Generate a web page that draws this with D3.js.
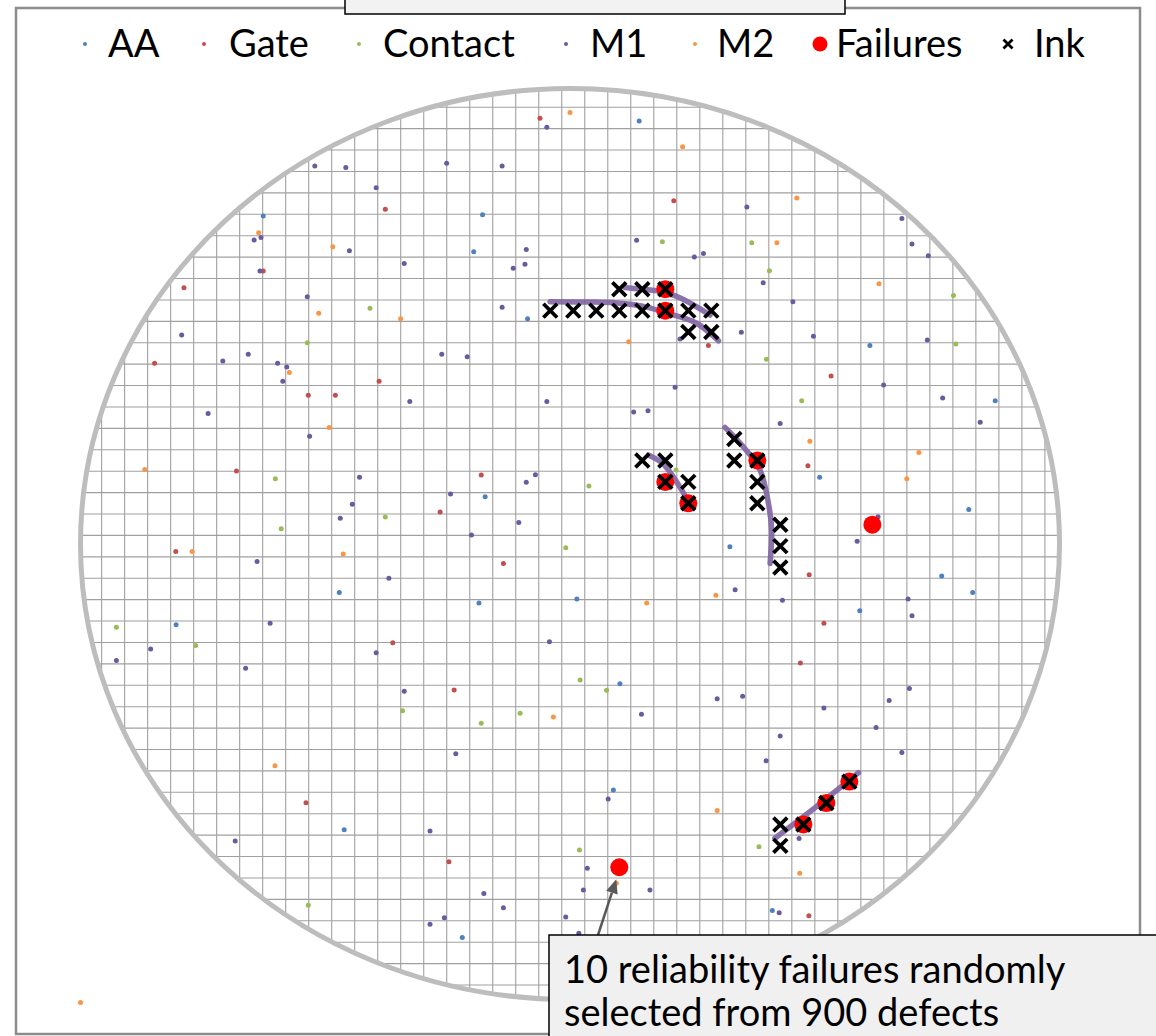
<!DOCTYPE html>
<html>
<head>
<meta charset="utf-8">
<script src="https://cdn.jsdelivr.net/npm/d3@7"></script>
<style>
  html, body { margin: 0; padding: 0; background: #fff; }
  svg { display: block; font-family: Lato, "Open Sans", sans-serif; }
</style>
</head>
<body>
<svg id="chart" width="1156" height="1036"></svg>
<script>
// ---- wafer geometry (mm) ----
const waferRadius = 150;
const diePitch = 7.05;
const dieOrigin = [1.0, -0.7];          // centre of die (col 0, row 0)

// ---- defect layers: [x mm, y mm] ----
const layerNames = ["AA", "Gate", "Contact", "M1", "M2"];
const layerColors = ["#4f81bd", "#c0504d", "#9bbb59", "#6b5b9e", "#f79646"];

const aaDefects = [
  [21.2,139.3],[-26.8,108.4],[-94.0,108.0],[-29.5,96.2],[-13.0,74.2],[-26.0,15.6],
  [91.9,65.4],[130.3,47.2],[76.5,22.0],[122.2,11.4],[49.0,-0.9],[-70.7,-16.0],
  [-27.9,-19.4],[-120.7,-26.6],[-69.2,-94.1],[-33.0,-129.6],[113.9,-10.5],[123.4,-16.0],
  [2.1,-18.1],[88.8,-22.0],[15.3,-46.0],[13.3,-81.0],[62.0,-120.7]
];
const gateDefects = [
  [-9.2,140.2],[-56.6,110.2],[-94.0,89.9],[-118.3,84.4],[-127.3,59.5],[-58.5,53.6],
  [-80.2,49.0],[-71.9,49.0],[-102.2,24.0],[-27.2,22.7],[-39.8,10.5],[31.8,113.0],
  [42.4,65.4],[80.0,55.3],[72.9,25.8],[-120.8,-2.5],[-20.4,-6.4],[-54.3,-32.5],
  [-35.5,-48.1],[-80.9,-85.2],[-37.1,-104.6],[73.3,-10.1],[77.8,-26.1],[70.6,-39.2],
  [73.2,-122.4]
];
const contactDefects = [
  [-61.3,77.6],[-80.5,66.3],[-90.3,21.5],[-56.6,8.9],[-88.5,5.0],[28.3,99.5],
  [55.7,99.2],[61.1,90.0],[117.5,81.8],[118.2,65.9],[60.2,60.8],[71.0,47.2],
  [32.5,24.4],[5.8,19.1],[-1.3,-1.2],[-139.0,-27.4],[-114.7,-33.4],[-51.3,-54.9],
  [-27.2,-59.0],[-15.3,-55.7],[-80.2,-119.0],[3.1,-44.8],[11.2,-48.2],[57.9,-99.7],
  [2.9,-100.8]
];
const m1Defects = [
  [-7.1,137.2],[-78.2,124.5],[-68.7,124.0],[-37.8,125.4],[-20.8,124.5],[-59.4,117.3],
  [-94.7,100.9],[-96.8,100.1],[-67.6,96.6],[-13.4,97.0],[-13.8,92.1],[-17.4,90.8],
  [-50.8,92.4],[-95.0,89.9],[-80.5,81.4],[-20.8,78.0],[-119.0,68.8],[-106.4,60.3],
  [-98.6,62.5],[-89.6,59.5],[-86.8,58.3],[-88.0,53.6],[-39.3,62.5],[-31.5,61.7],
  [-49.1,46.9],[-7.1,46.9],[-110.9,43.0],[-79.8,35.5],[-64.5,22.0],[-10.6,22.8],
  [-13.4,20.3],[-36.6,16.5],[-66.7,13.1],[-70.4,8.5],[-15.7,7.1],[-30.2,3.0],
  [54.2,111.0],[101.7,107.2],[104.8,98.8],[109.8,94.9],[20.4,100.0],[38.1,94.5],
  [40.9,95.7],[59.2,86.0],[68.3,79.8],[52.5,69.7],[74.6,68.4],[109.5,67.2],
  [33.7,67.5],[32.2,51.6],[96.1,52.4],[114.2,48.1],[19.5,43.5],[23.9,43.9],
  [64.4,39.7],[125.7,40.1],[94.4,9.0],[88.0,0.9],
  [-95.9,-5.8],[-55.5,-11.3],[-91.9,-26.1],[-128.5,-34.6],[-139.0,-38.4],[-99.4,-40.9],
  [-59.4,-35.8],[-6.3,-32.2],[-50.8,-48.5],[-35.0,-69.1],[-102.6,-97.8],[-42.9,-94.5],
  [-26.4,-115.1],[-20.4,-119.8],[-1.3,-122.8],[-42.9,-125.2],[-38.5,-123.1],
  [50.6,-15.1],[65.1,-18.5],[103.6,-18.1],[104.8,-23.6],[45.1,-51.0],[52.9,-50.1],
  [21.9,-56.1],[77.8,-54.0],[97.8,-51.5],[104.0,-47.6],[93.8,-60.4],[64.4,-63.2],
  [101.7,-68.7],[60.1,-71.4],[11.7,-84.0],[70.2,-97.0],[5.3,-106.8],[4.1,-113.9],
  [24.5,-113.9],[2.7,-128.2],[64.1,-121.4]
];
const m2Defects = [
  [0.0,142.1],[-95.4,102.5],[-72.7,97.9],[-77.0,76.0],[-51.9,74.2],[-86.0,56.5],
  [-73.8,38.4],[-130.3,24.5],[34.5,130.8],[69.5,113.9],[63.4,99.2],[94.7,85.7],
  [18.0,66.6],[73.5,33.8],[106.9,30.1],[103.2,21.5],[-115.8,-2.5],[-69.5,-3.3],
  [-5.1,-57.0],[-90.4,-73.0],[44.7,-16.9],[23.5,-19.4],[45.1,-87.8],[14.2,-111.7],
  [70.4,-108.4],[-150.0,-151.0]
];
const layerDefects = [aaDefects, gateDefects, contactDefects, m1Defects, m2Defects];

// ---- reliability failures and inked dies: [col, row] ----
const failureDies = [[4,12],[4,11],[4,3],[5,2],[8,4],[13,1],[10,-13],[11,-12],[12,-11],[2,-15]];
const inkDies = [
  [2,12],[3,12],[4,12],
  [-1,11],[0,11],[1,11],[2,11],[3,11],[4,11],[5,11],[6,11],
  [5,10],[6,10],
  [3,4],[4,4],[4,3],[5,3],[5,2],
  [7,5],[7,4],[8,4],[8,3],[8,2],[9,1],[9,0],[9,-1],
  [9,-13],[9,-14],[10,-13],[11,-12],[12,-11]
];

// ---- scratch traces: [x mm, y mm] ----
const scratches = [
  [[-6.1,79.8],[6.1,79.7],[14.3,79.4],[21.5,78.5],[29.3,76.2],[38.8,72.7],[45.5,66.9]],
  [[16.9,84.5],[23.0,83.8],[28.6,83.0],[35.2,80.3],[42.9,75.4]],
  [[24.0,29.3],[28.2,26.7],[31.3,22.7],[34.2,17.8],[36.3,13.9]],
  [[47.5,38.4],[53.1,32.0],[58.2,24.4],[60.8,13.4],[61.8,4.6],[61.3,-6.4]],
  [[62.8,-96.9],[75.0,-86.9],[88.4,-75.3]]
];

const annotationLines = ["10 reliability failures randomly", "selected from 900 defects"];
const annotatedFailure = [2,-15];

// ---- layout ----
const svg = d3.select("#chart");
const x = d3.scaleLinear().domain([-waferRadius, waferRadius]).range([80.5, 1059.5]);
const y = d3.scaleLinear().domain([-waferRadius, waferRadius]).range([999.5, 88.5]);
const dieX = c => x(dieOrigin[0] + c * diePitch);
const dieY = r => y(dieOrigin[1] + r * diePitch);

// chart frame
svg.append("rect")
  .attr("x", 16).attr("y", 8).attr("width", 1124).attr("height", 1026)
  .attr("fill", "#fff").attr("stroke", "#8c8c8c").attr("stroke-width", 2.5);

// wafer outline clip
const cx = x(0), cy = y(0), rx = x(waferRadius) - x(0), ry = y(0) - y(waferRadius);
svg.append("clipPath").attr("id", "wafer-clip")
  .append("ellipse").attr("cx", cx).attr("cy", cy).attr("rx", rx).attr("ry", ry);

// die grid
const grid = svg.append("g").attr("clip-path", "url(#wafer-clip)")
  .attr("stroke", "#a0a0a0").attr("stroke-width", 1.1);
const kx0 = Math.floor((-waferRadius - dieOrigin[0]) / diePitch) - 1;
const kx1 = Math.ceil((waferRadius - dieOrigin[0]) / diePitch) + 1;
const colEdges = d3.range(kx0, kx1 + 1).map(k => dieOrigin[0] + (k - 0.5) * diePitch);
const ky0 = Math.floor((-waferRadius - dieOrigin[1]) / diePitch) - 1;
const ky1 = Math.ceil((waferRadius - dieOrigin[1]) / diePitch) + 1;
const rowEdges = d3.range(ky0, ky1 + 1).map(k => dieOrigin[1] + (k - 0.5) * diePitch);
grid.selectAll("line.v").data(colEdges).join("line").attr("class", "v")
  .attr("x1", d => x(d)).attr("x2", d => x(d))
  .attr("y1", y(waferRadius)).attr("y2", y(-waferRadius));
grid.selectAll("line.h").data(rowEdges).join("line").attr("class", "h")
  .attr("y1", d => y(d)).attr("y2", d => y(d))
  .attr("x1", x(-waferRadius)).attr("x2", x(waferRadius));

// wafer edge
svg.append("ellipse").attr("cx", cx).attr("cy", cy).attr("rx", rx).attr("ry", ry)
  .attr("fill", "none").attr("stroke", "#bdbdbd").attr("stroke-width", 5);

// defects per layer
layerDefects.forEach((pts, i) => {
  svg.append("g").attr("class", "layer-" + layerNames[i])
    .selectAll("circle").data(pts).join("circle")
    .attr("cx", d => x(d[0])).attr("cy", d => y(d[1])).attr("r", 2.5)
    .attr("fill", layerColors[i]);
});

// scratches
const scratchLine = d3.line().x(d => x(d[0])).y(d => y(d[1])).curve(d3.curveCatmullRom);
svg.append("g").selectAll("path").data(scratches).join("path")
  .attr("d", scratchLine).attr("fill", "none")
  .attr("stroke", "#8064a2").attr("stroke-opacity", 0.9)
  .attr("stroke-width", 5.5).attr("stroke-linecap", "round");

// failures
svg.append("g").selectAll("circle").data(failureDies).join("circle")
  .attr("cx", d => dieX(d[0])).attr("cy", d => dieY(d[1])).attr("r", 9)
  .attr("fill", "#ff0000");

// ink marks
const cross = d3.symbol().type(d3.symbolX).size(125);
svg.append("g").selectAll("path").data(inkDies).join("path")
  .attr("transform", d => `translate(${dieX(d[0])},${dieY(d[1])})`)
  .attr("d", cross).attr("fill", "none").attr("stroke", "#000").attr("stroke-width", 3.8);

// title box (top, partly off canvas)
svg.append("rect").attr("x", 345).attr("y", -20).attr("width", 500).attr("height", 34)
  .attr("fill", "#f2f2f2").attr("stroke", "#000").attr("stroke-width", 1.5);

// legend
const legendItems = [
  { label: "AA", kind: "dot", color: layerColors[0], mx: 85, tx: 108 },
  { label: "Gate", kind: "dot", color: layerColors[1], mx: 204, tx: 229 },
  { label: "Contact", kind: "dot", color: layerColors[2], mx: 359, tx: 383 },
  { label: "M1", kind: "dot", color: layerColors[3], mx: 566, tx: 590 },
  { label: "M2", kind: "dot", color: layerColors[4], mx: 695, tx: 717 },
  { label: "Failures", kind: "fail", color: "#ff0000", mx: 820, tx: 836 },
  { label: "Ink", kind: "ink", color: "#000", mx: 1008, tx: 1034 }
];
const legend = svg.append("g");
const legendY = 44;
legendItems.forEach(it => {
  if (it.kind === "dot") {
    legend.append("circle").attr("cx", it.mx).attr("cy", legendY).attr("r", 2).attr("fill", it.color);
  } else if (it.kind === "fail") {
    legend.append("circle").attr("cx", it.mx).attr("cy", legendY).attr("r", 7.5).attr("fill", it.color);
  } else {
    legend.append("path").attr("transform", `translate(${it.mx},${legendY})`)
      .attr("d", d3.symbol().type(d3.symbolX).size(55)).attr("stroke", "#000")
      .attr("stroke-width", 2.8).attr("fill", "none");
  }
  legend.append("text").attr("x", it.tx).attr("y", 57).attr("font-size", 38)
    .attr("fill", "#000").text(it.label);
});

// annotation callout
const ax0 = 598, ay0 = 935;
const tipX = dieX(annotatedFailure[0]) - 3, tipY = dieY(annotatedFailure[1]) + 12;
const ang = Math.atan2(tipY - ay0, tipX - ax0);
const hl = 14, hw = 6;
const bx = tipX - hl * Math.cos(ang), by = tipY - hl * Math.sin(ang);
svg.append("line").attr("x1", ax0).attr("y1", ay0).attr("x2", bx).attr("y2", by)
  .attr("stroke", "#595959").attr("stroke-width", 2.5);
svg.append("path")
  .attr("d", `M${tipX},${tipY}L${bx + hw * Math.sin(ang)},${by - hw * Math.cos(ang)}L${bx - hw * Math.sin(ang)},${by + hw * Math.cos(ang)}Z`)
  .attr("fill", "#595959");

svg.append("rect").attr("x", 549).attr("y", 935).attr("width", 640).attr("height", 140)
  .attr("fill", "#f0f0f0").attr("stroke", "#000").attr("stroke-width", 1.5);
svg.append("g").selectAll("text").data(annotationLines).join("text")
  .attr("x", 564).attr("y", (d, i) => 983 + i * 43)
  .attr("font-size", 38).attr("fill", "#000").text(d => d);
</script>
</body>
</html>
